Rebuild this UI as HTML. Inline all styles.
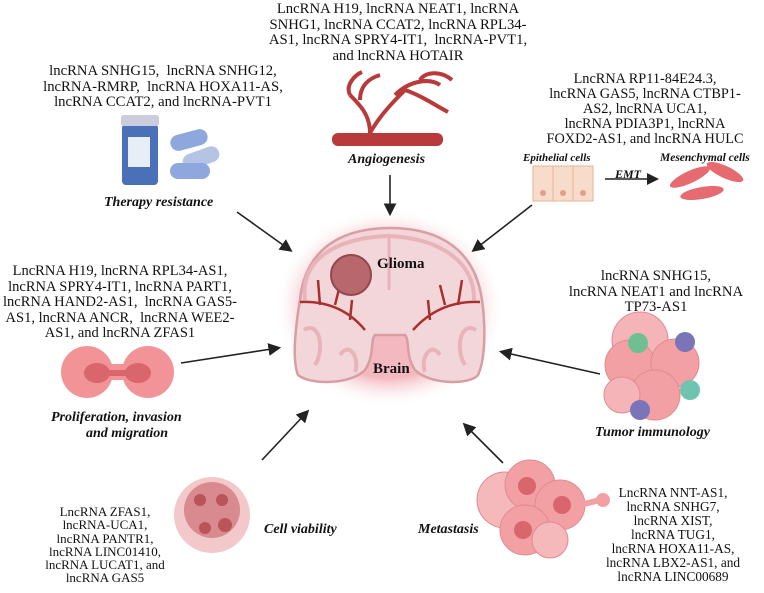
<!DOCTYPE html>
<html><head><meta charset="utf-8"><style>
body{margin:0;width:764px;height:593px;background:#fff;position:relative;overflow:hidden;font-family:"Liberation Serif",serif;color:#111}
.t{position:absolute;font-size:14.7px;line-height:15.5px;text-align:center;white-space:nowrap}
.l{position:absolute;font-size:14px;font-weight:bold;font-style:italic;white-space:nowrap;line-height:16px}
svg{position:absolute;left:0;top:0}
</style></head><body>
<svg width="764" height="593" viewBox="0 0 764 593">
<defs>
<radialGradient id="g" cx="50%" cy="50%" r="50%"><stop offset="70%" stop-color="#f4b9c0"/><stop offset="100%" stop-color="#fff" stop-opacity="0"/></radialGradient>
<marker id="a" markerWidth="8" markerHeight="8" refX="6" refY="4" orient="auto"><path d="M0,0 L8,4 L0,8 z" fill="#222"/></marker>
</defs>
<ellipse cx="389" cy="308" rx="115" ry="100" fill="url(#g)"/>
<path d="M300,300 C305,250 340,228 390,228 C440,228 475,250 482,300 C486,330 485,360 478,375 C470,385 430,385 415,370 C405,355 410,340 405,335 L375,335 C370,340 375,355 365,370 C350,385 310,385 298,375 C292,360 295,330 300,300 z" fill="#f3d6d9" stroke="#d79ea4" stroke-width="2.5"/>
<path d="M305,300 C300,260 335,238 388,236 C440,238 475,262 474,300" stroke="#e8b4ba" stroke-width="4" fill="none"/>
<path d="M304,330 C320,320 325,350 315,365 M476,330 C460,320 455,350 465,365 M340,355 C350,340 360,360 355,372 M440,355 C430,340 420,360 425,372" stroke="#e8b4ba" stroke-width="4" fill="none"/>
<path d="M389,236 L389,290" stroke="#e8b4ba" stroke-width="3"/>
<path d="M300,302 Q340,300 365,330 M480,302 Q440,300 413,330 M320,305 L318,280 M335,305 L340,285 M458,305 L462,280 M445,305 L440,285 M350,320 L352,300 M430,320 L428,300" stroke="#a8302f" stroke-width="2.5" fill="none"/>
<circle cx="351" cy="275" r="20" fill="#b8686d" stroke="#93474d" stroke-width="2"/>
<!-- vessel -->
<rect x="332" y="133" width="111" height="13" rx="6" fill="#b83a3a"/>
<path d="M370,133 C370,115 360,105 350,95 M370,133 C380,115 395,100 405,90 M360,100 C360,85 370,78 380,75 M395,95 C410,80 430,78 440,85 M405,90 C420,95 435,105 448,112 M350,95 C345,85 355,75 362,72 M420,80 C425,72 440,70 452,80" stroke="#b83a3a" stroke-width="4" fill="none"/>
<!-- pills -->
<rect x="122" y="124" width="36" height="61" rx="4" fill="#4a70b8"/><rect x="121" y="115" width="38" height="11" rx="3" fill="#ccd"/><rect x="128" y="137" width="22" height="30" fill="#e8eef5"/>
<rect x="170" y="132" width="38" height="16" rx="8" fill="#8ea8dd" transform="rotate(-15 189 140)"/>
<rect x="182" y="150" width="38" height="16" rx="8" fill="#b5c4e4" transform="rotate(-20 201 158)"/>
<rect x="170" y="163" width="40" height="16" rx="8" fill="#8ea8dd"/>
<!-- epithelial -->
<rect x="533" y="166" width="60" height="35" fill="#f8dccb" stroke="#e3b49a"/><line x1="553" y1="166" x2="553" y2="201" stroke="#e3b49a"/><line x1="573" y1="166" x2="573" y2="201" stroke="#e3b49a"/>
<circle cx="543" cy="193" r="3" fill="#e0a08a"/><circle cx="563" cy="193" r="3" fill="#e0a08a"/><circle cx="583" cy="193" r="3" fill="#e0a08a"/>
<line x1="605" y1="179" x2="656" y2="179" stroke="#222" stroke-width="1.5" marker-end="url(#a)"/>
<ellipse cx="690" cy="177" rx="22" ry="6" fill="#e56b70" transform="rotate(-25 690 177)"/><ellipse cx="725" cy="172" rx="20" ry="6" fill="#e56b70" transform="rotate(25 725 172)"/><ellipse cx="702" cy="193" rx="22" ry="6" fill="#e56b70" transform="rotate(-10 702 193)"/>
<!-- proliferation -->
<circle cx="87" cy="372" r="26" fill="#f29497"/><circle cx="148" cy="372" r="26" fill="#f29497"/><rect x="100" y="364" width="40" height="16" fill="#f29497"/>
<ellipse cx="97" cy="373" rx="13" ry="10" fill="#d9666c"/><ellipse cx="138" cy="373" rx="13" ry="10" fill="#d9666c"/><rect x="105" y="370" width="28" height="6" fill="#d9666c"/>
<!-- tumor -->
<g fill="#f2a0a4" stroke="#e08a90"><circle cx="640" cy="340" r="28" fill="#f5b5b8"/><circle cx="630" cy="365" r="25"/><circle cx="675" cy="363" r="24"/><circle cx="655" cy="395" r="25"/><circle cx="622" cy="395" r="18" fill="#f5b5b8"/></g>
<circle cx="638" cy="343" r="10" fill="#6fbf93"/><circle cx="685" cy="342" r="10" fill="#7a74b8"/><circle cx="690" cy="390" r="10" fill="#6fc4b0"/><circle cx="640" cy="410" r="10" fill="#7a74b8"/>
<!-- viability -->
<g><circle cx="212" cy="515" r="38" fill="#f3c8ca"/><circle cx="212" cy="510" r="28" fill="#d98a8e"/><circle cx="200" cy="500" r="6" fill="#b8545a"/><circle cx="222" cy="500" r="6" fill="#b8545a"/><circle cx="225" cy="525" r="7" fill="#b8545a"/><circle cx="205" cy="528" r="6" fill="#b8545a"/></g>
<!-- metastasis -->
<g fill="#f2a0a4" stroke="#e08a90"><circle cx="505" cy="500" r="28" fill="#f5b8bb"/><circle cx="530" cy="485" r="25"/><circle cx="560" cy="505" r="25"/><circle cx="525" cy="530" r="25"/><circle cx="550" cy="540" r="18" fill="#f5b8bb"/></g>
<path d="M580,505 L600,500" stroke="#f2a0a4" stroke-width="6"/><circle cx="603" cy="500" r="7" fill="#f2a0a4"/>
<circle cx="527" cy="486" r="9" fill="#d9666c"/><circle cx="562" cy="505" r="9" fill="#d9666c"/><circle cx="523" cy="530" r="9" fill="#d9666c"/>
<!-- arrows -->
<g stroke="#222" stroke-width="1.6" marker-end="url(#a)">
<line x1="390" y1="175" x2="390" y2="213"/>
<line x1="237" y1="212" x2="290" y2="250"/>
<line x1="532" y1="205" x2="474" y2="250"/>
<line x1="181" y1="363" x2="278" y2="348"/>
<line x1="600" y1="374" x2="502" y2="352"/>
<line x1="262" y1="460" x2="307" y2="412"/>
<line x1="503" y1="463" x2="465" y2="425"/>
</g>
</svg>
<div class="t" style="left:248px;top:2px;width:300px">LncRNA H19, lncRNA NEAT1, lncRNA<br>SNHG1, lncRNA CCAT2, lncRNA RPL34-<br>AS1, lncRNA SPRY4-IT1,&nbsp; lncRNA-PVT1,<br>and lncRNA HOTAIR</div>
<div class="l" style="left:348px;top:152px">Angiogenesis</div>
<div class="t" style="left:13px;top:64px;width:300px">lncRNA SNHG15,&nbsp; lncRNA SNHG12,<br>lncRNA-RMRP,&nbsp; lncRNA HOXA11-AS,<br>lncRNA CCAT2, and lncRNA-PVT1</div>
<div class="l" style="left:104px;top:195px">Therapy resistance</div>
<div class="t" style="left:525px;top:72px;width:240px;font-size:14.3px;line-height:15px">LncRNA RP11-84E24.3,<br>lncRNA GAS5, lncRNA CTBP1-<br>AS2, lncRNA UCA1,<br>lncRNA PDIA3P1, lncRNA<br>FOXD2-AS1, and lncRNA HULC</div>
<div class="l" style="left:523px;top:150px;font-size:11px">Epithelial cells</div>
<div class="l" style="left:660px;top:150px;font-size:11.5px">Mesenchymal cells</div>
<div class="l" style="left:615px;top:166px;font-size:12px">EMT</div>
<div class="l" style="left:377px;top:256px;font-size:15px;font-style:normal">Glioma</div>
<div class="l" style="left:373px;top:361px;font-size:15px;font-style:normal">Brain</div>
<div class="t" style="left:-10px;top:264px;width:260px;font-size:14.5px">LncRNA H19, lncRNA RPL34-AS1,<br>lncRNA SPRY4-IT1, lncRNA PART1,<br>lncRNA HAND2-AS1,&nbsp; lncRNA GAS5-<br>AS1, lncRNA ANCR,&nbsp; lncRNA WEE2-<br>AS1, and lncRNA ZFAS1</div>
<div class="l" style="left:51px;top:410px">Proliferation, invasion</div>
<div class="l" style="left:86px;top:426px">and migration</div>
<div class="t" style="left:536px;top:269px;width:240px">lncRNA SNHG15,<br>lncRNA NEAT1 and lncRNA<br>TP73-AS1</div>
<div class="l" style="left:595px;top:425px">Tumor immunology</div>
<div class="t" style="left:15px;top:505px;width:180px;font-size:13px;line-height:13.3px">LncRNA ZFAS1,<br>lncRNA-UCA1,<br>lncRNA PANTR1,<br>lncRNA LINC01410,<br>lncRNA LUCAT1, and<br>lncRNA GAS5</div>
<div class="l" style="left:264px;top:522px">Cell viability</div>
<div class="l" style="left:418px;top:522px">Metastasis</div>
<div class="t" style="left:593px;top:486px;width:160px;font-size:13.3px;line-height:14px">LncRNA NNT-AS1,<br>lncRNA SNHG7,<br>lncRNA XIST,<br>lncRNA TUG1,<br>lncRNA HOXA11-AS,<br>lncRNA LBX2-AS1, and<br>lncRNA LINC00689</div>
</body></html>
